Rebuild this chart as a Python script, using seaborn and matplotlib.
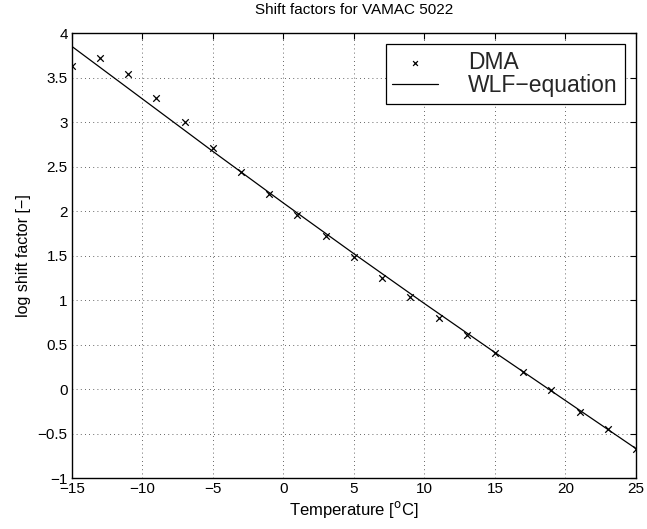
import matplotlib
matplotlib.use("Agg")
import matplotlib.pyplot as plt
import seaborn as sns
import pandas as pd

# DMA measured shift factors
dma_temp = [-15, -13, -11, -9, -7, -5, -3, -1, 1, 3, 5, 7, 9, 11, 13, 15, 17, 19, 21, 23, 25]
dma_logaT = [3.63, 3.72, 3.54, 3.27, 3.00, 2.71, 2.435, 2.19, 1.96, 1.72, 1.48, 1.25,
             1.03, 0.80, 0.61, 0.41, 0.19, -0.01, -0.26, -0.45, -0.67]

# WLF-equation curve
wlf_temp = [-15, -10, -5, 0, 5, 10, 15, 20, 25]
wlf_logaT = [3.85, 3.26, 2.67, 2.09, 1.52, 0.96, 0.41, -0.13, -0.67]

x_ticks = [-15, -10, -5, 0, 5, 10, 15, 20, 25]
y_ticks = [-1, -0.5, 0, 0.5, 1, 1.5, 2, 2.5, 3, 3.5, 4]

sns.set_theme(style="white")
plt.rcParams['font.family'] = ['Liberation Sans', 'DejaVu Sans']
plt.rcParams['axes.unicode_minus'] = True

dma = pd.DataFrame({"T": dma_temp, "a": dma_logaT})
wlf = pd.DataFrame({"T": wlf_temp, "a": wlf_logaT})

fig = plt.figure(figsize=(6.47, 5.29), dpi=100)
ax = fig.add_axes([0.111, 0.0964, 0.872, 0.8412])

sns.scatterplot(data=dma, x="T", y="a", marker="x", color="black", s=22,
                linewidth=0.9, ax=ax, label="DMA", zorder=3)
sns.lineplot(data=wlf, x="T", y="a", color="black", linewidth=0.9, ax=ax,
             label="WLF\u2212equation", zorder=2)

ax.set_xlim(-15, 25)
ax.set_ylim(-1, 4)
ax.set_xticks(x_ticks)
ax.set_yticks(y_ticks)
ax.set_xticklabels([f"{v}".replace("-", "\u2212") for v in x_ticks])
ax.set_yticklabels([(f"{v:g}").replace("-", "\u2212") for v in y_ticks])
ax.grid(True, linestyle=(0, (1, 4)), color="black", linewidth=0.6, alpha=0.8)
ax.tick_params(direction="in", length=4, width=0.8, top=True, right=True,
               labelsize=11, colors="black", pad=3)
for s in ax.spines.values():
    s.set_color("black")
    s.set_linewidth(1.0)

ax.set_xlabel("Temperature [$^{\\mathrm{o}}$C]", fontsize=12, color="black", labelpad=2)
ax.set_ylabel("log shift factor [\u2212]", fontsize=11.5, color="black", labelpad=5)
ax.set_title("Shift factors for VAMAC 5022", fontsize=11, color="black", pad=14)

leg = ax.legend(loc="upper right", fontsize=16.5, frameon=True, fancybox=False,
                edgecolor="black", framealpha=1, borderpad=0.3, labelspacing=0.0,
                handlelength=2.0, handletextpad=1.3, borderaxespad=0.5)
leg.get_frame().set_linewidth(0.9)
for h in leg.legend_handles:
    try:
        h.set_sizes([12])
    except AttributeError:
        pass

fig.savefig("out.png", dpi=100)
